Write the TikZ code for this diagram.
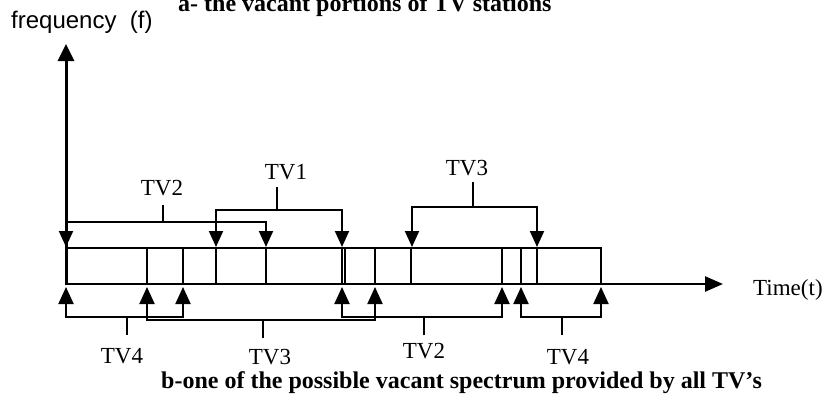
\documentclass[tikz,border=0pt]{standalone}
\usepackage{fontspec}
\setmainfont{Liberation Serif}
\newfontfamily\arialfont{Liberation Sans}
\usetikzlibrary{arrows.meta}

\tikzset{
  tvlabel/.style={font=\fontsize{23}{26}\selectfont, inner sep=0pt},
  caption/.style={font=\fontsize{24}{27}\selectfont\bfseries, inner sep=0pt, anchor=base west},
  brace/.style={line width=2pt},
  tipdown/.style={brace, -{Triangle[length=16pt,width=14pt]}},
  tipup/.style={brace, -{Triangle[length=17pt,width=15pt]}},
  cell/.style={line width=1.8pt},
}

\begin{document}
\begin{tikzpicture}[x=1pt,y=-1pt]
		\useasboundingbox (0,0) rectangle (826,396);

		% Axes
		\coordinate (o) at (66,284);
		\coordinate (ftop) at (66,44);
		\coordinate (tend) at (723,284);
		\draw[line width=3pt, -{Triangle[length=17pt,width=16pt]}] (o) -- (ftop);
		\draw[line width=2.5pt, -{Triangle[length=18pt,width=15pt]}] (o) -- (tend);
		\node[font=\arialfont\fontsize{24}{27}\selectfont, inner sep=0pt, anchor=base west] (flabel) at (11,29) {frequency\ \ (f)};
		\node[tvlabel, anchor=base west] (tlabel) at (753,295) {Time(t)};

		% Draw the spectrum strip
		\draw[line width=2pt] (66,248) rectangle (601,284);
		\foreach \x in {147,183,216,266,342,345,375,411,502,521,537} {
				\draw[cell] (\x,248) -- (\x,284);
			}

		% Arrow tips on the strip
		\foreach \x in {66,216,266,342,412,537}
			\coordinate (u\x) at (\x,247);
		\foreach \x in {66,147,183,342,375,502,521,601}
			\coordinate (d\x) at (\x,287);

		% a- vacant portions of each TV station
		\node[tvlabel] (tv2) at (162,188) {TV2};
		\node[tvlabel] (tv1) at (286,172) {TV1};
		\node[tvlabel] (tv3) at (467,168) {TV3};
		\coordinate (b2) at (163,222);
		\coordinate (b1) at (277,210);
		\coordinate (b3) at (473,207);
		\draw[brace] (163,205) -- (b2);
		\draw[tipdown] (b2) -| (u66);
		\draw[tipdown] (b2) -| (u266);
		\draw[brace] (277,187) -- (b1);
		\draw[tipdown] (b1) -| (u216);
		\draw[tipdown] (b1) -| (u342);
		\draw[brace] (473,182) -- (b3);
		\draw[tipdown] (b3) -| (u412);
		\draw[tipdown] (b3) -| (u537);

		% b- one possible vacant spectrum
		\node[tvlabel] (tv4l) at (122,356) {TV4};
		\node[tvlabel] (tv3b) at (270,357) {TV3};
		\node[tvlabel] (tv2b) at (424,351) {TV2};
		\node[tvlabel] (tv4r) at (568,357) {TV4};
		\coordinate (c4l) at (127,317);
		\coordinate (c3) at (263,320);
		\coordinate (c2) at (424,317);
		\coordinate (c4r) at (562,317);
		\draw[brace] (127,335) -- (c4l);
		\draw[tipup] (c4l) -| (d66);
		\draw[tipup] (c4l) -| (d183);
		\draw[brace] (263,338) -- (c3);
		\draw[tipup] (c3) -| (d147);
		\draw[tipup] (c3) -| (d375);
		\draw[brace] (424,335) -- (c2);
		\draw[tipup] (c2) -| (d342);
		\draw[tipup] (c2) -| (d502);
		\draw[brace] (562,335) -- (c4r);
		\draw[tipup] (c4r) -| (d521);
		\draw[tipup] (c4r) -| (d601);

		% Captions
		\node[caption] (capa) at (178,12) {a- the vacant portions of TV stations};
		\node[caption] (capb) at (161,388) {b-one of the possible vacant spectrum provided by all TV's};
	\end{tikzpicture}
\end{document}
